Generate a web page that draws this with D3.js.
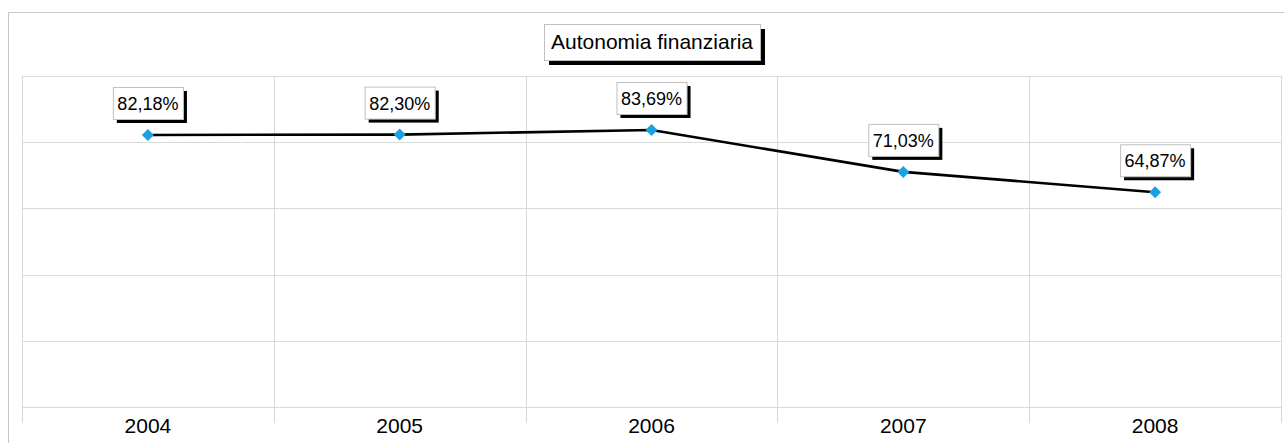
<!DOCTYPE html>
<html><head><meta charset="utf-8">
<script src="https://cdn.jsdelivr.net/npm/d3@7"></script>
<style>body{margin:0;background:#fff;} svg{display:block;}</style>
</head><body>
<svg id="c" width="1284" height="443"></svg>
<script>
const title = "Autonomia finanziaria";
const years = ["2004","2005","2006","2007","2008"];
const values = [82.18, 82.30, 83.69, 71.03, 64.87];
const yTicks = [0,20,40,60,80,100];

(function(){
const svg = d3.select("#c");
const font = "'Liberation Sans', Arial, sans-serif";
const pLeft=22, pRight=1281, pTop=76, pBottom=407;

const x = d3.scaleBand().domain(years).range([pLeft,pRight]).padding(0);
const y = d3.scaleLinear().domain([0,100]).range([pBottom,pTop]);

// outer frame
svg.append("rect").attr("x",8.5).attr("y",12.5).attr("width",1290).attr("height",450)
  .attr("fill","none").attr("stroke","#c8c8c8");

const grid="#d9d9d9";
svg.append("g").selectAll("line").data(yTicks).join("line")
  .attr("x1",pLeft).attr("x2",pRight)
  .attr("y1",d=>Math.round(y(d))+0.5).attr("y2",d=>Math.round(y(d))+0.5)
  .attr("stroke",grid);
const bounds = years.map(d=>x(d)).concat([pRight]);
svg.append("g").selectAll("line").data(bounds).join("line")
  .attr("x1",d=>Math.round(d)+0.5).attr("x2",d=>Math.round(d)+0.5)
  .attr("y1",pTop).attr("y2",pBottom+16)
  .attr("stroke",grid);

svg.append("g").selectAll("text").data(years).join("text")
  .attr("x",d=>x(d)+x.bandwidth()/2).attr("y",433)
  .attr("text-anchor","middle").attr("font-family",font).attr("font-size",21)
  .attr("fill","#000").text(d=>d);

const pts = years.map((d,i)=>({yr:d,v:values[i]}));
const line = d3.line().x(d=>x(d.yr)+x.bandwidth()/2).y(d=>y(d.v));
svg.append("path").datum(pts).attr("d",line).attr("fill","none")
  .attr("stroke","#000").attr("stroke-width",2.6).attr("stroke-linejoin","round");

svg.append("g").selectAll("path").data(pts).join("path")
  .attr("transform",d=>`translate(${x(d.yr)+x.bandwidth()/2},${y(d.v)}) rotate(45)`)
  .attr("d",d3.symbol().type(d3.symbolSquare).size(72))
  .attr("fill","#1ba1e2");

const fmt = v=>v.toFixed(2).replace(".",",")+"%";
const lg = svg.append("g").selectAll("g").data(pts).join("g")
  .attr("transform",d=>`translate(${x(d.yr)+x.bandwidth()/2},${y(d.v)-16})`);
lg.each(function(d){
  const g=d3.select(this);
  const t=g.append("text").attr("font-family",font).attr("font-size",18)
    .attr("text-anchor","middle").attr("x",0).attr("y",-9).text(fmt(d.v));
  const w=t.node().getComputedTextLength()+9, h=32;
  g.insert("rect","text").attr("x",-w/2+4).attr("y",-h+4).attr("width",w).attr("height",h).attr("fill","#000");
  g.insert("rect","text").attr("x",-w/2+0.5).attr("y",-h+0.5).attr("width",w).attr("height",h)
    .attr("fill","#fff").attr("stroke","#c0c0c0");
});

const tg=svg.append("g").attr("transform","translate(652,60)");
const tt=tg.append("text").attr("font-family",font).attr("font-size",21).attr("text-anchor","middle")
  .attr("x",0).attr("y",-11).text(title);
const tw=tt.node().getComputedTextLength()+14, th=36;
tg.insert("rect","text").attr("x",-tw/2+5).attr("y",-th+5).attr("width",tw).attr("height",th).attr("fill","#000");
tg.insert("rect","text").attr("x",-tw/2+0.5).attr("y",-th+0.5).attr("width",tw).attr("height",th)
  .attr("fill","#fff").attr("stroke","#c0c0c0");
})();
</script>
</body></html>
